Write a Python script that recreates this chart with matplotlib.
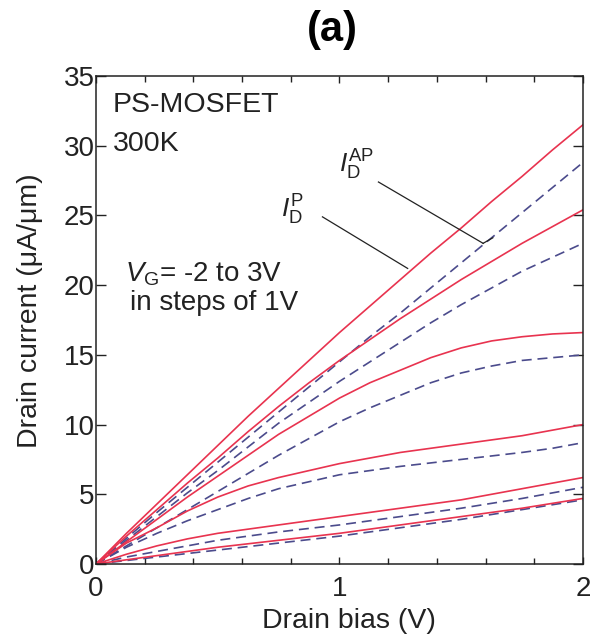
import numpy as np
import matplotlib
matplotlib.use('Agg')
from matplotlib import pyplot as plt
from matplotlib.ticker import MultipleLocator

plt.rcParams['font.family'] = ['Liberation Sans', 'DejaVu Sans']
plt.rcParams['mathtext.fontset'] = 'custom'
plt.rcParams['mathtext.rm'] = 'Liberation Sans'
plt.rcParams['mathtext.it'] = 'Liberation Sans:italic'

# drain bias (V)
vd = [0, 0.125, 0.25, 0.375, 0.5, 0.625, 0.75, 0.875, 1.0,
      1.125, 1.25, 1.375, 1.5, 1.625, 1.75, 1.875, 2.0]

# I_D^P, parallel state, VG = 3 .. -2 V (uA/um)
id_p = [
    [0, 2.2, 4.3, 6.4, 8.5, 10.6, 12.6, 14.6, 16.6, 18.5, 20.4, 22.3, 24.1, 26.0, 27.8, 29.7, 31.5],
    [0, 2.0, 3.9, 5.8, 7.6, 9.5, 11.3, 13.0, 14.6, 16.1, 17.6, 19.0, 20.4, 21.7, 23.0, 24.2, 25.4],
    [0, 1.6, 3.2, 4.8, 6.3, 7.8, 9.3, 10.6, 11.9, 13.0, 13.9, 14.8, 15.5, 16.0, 16.3, 16.5, 16.6],
    [0, 1.5, 2.6, 3.8, 4.8, 5.6, 6.2, 6.7, 7.2, 7.6, 8.0, 8.3, 8.6, 8.9, 9.2, 9.6, 10.0],
    [0, 0.7, 1.3, 1.8, 2.2, 2.5, 2.8, 3.1, 3.4, 3.7, 4.0, 4.3, 4.6, 5.0, 5.4, 5.8, 6.2],
    [0, 0.3, 0.6, 0.9, 1.2, 1.45, 1.7, 1.95, 2.2, 2.5, 2.8, 3.1, 3.4, 3.7, 4.0, 4.35, 4.7],
]

# I_D^AP, antiparallel state
id_ap = [
    [0, 1.85, 3.7, 5.5, 7.3, 9.1, 10.9, 12.7, 14.5, 16.3, 18.0, 19.8, 21.6, 23.4, 25.2, 27.0, 28.8],
    [0, 1.7, 3.4, 5.1, 6.7, 8.4, 10.1, 11.6, 13.1, 14.5, 15.9, 17.3, 18.6, 19.8, 21.0, 22.0, 23.0],
    [0, 1.3, 2.6, 3.9, 5.2, 6.5, 7.8, 9.0, 10.2, 11.2, 12.1, 13.0, 13.7, 14.2, 14.6, 14.8, 15.0],
    [0, 1.2, 2.2, 3.1, 3.9, 4.7, 5.4, 5.9, 6.4, 6.7, 7.0, 7.25, 7.5, 7.75, 8.0, 8.3, 8.7],
    [0, 0.5, 0.9, 1.3, 1.7, 2.0, 2.3, 2.55, 2.8, 3.1, 3.4, 3.7, 4.0, 4.35, 4.7, 5.1, 5.5],
    [0, 0.25, 0.5, 0.75, 1.0, 1.25, 1.5, 1.75, 2.0, 2.3, 2.6, 2.9, 3.2, 3.55, 3.9, 4.25, 4.6],
]

red = '#e8334f'
blue = '#4b4b8c'
ink = '#222222'

fig = plt.figure(figsize=(5.93, 6.39), dpi=100)
ax = fig.add_axes([0.162, 0.1174, 0.821, 0.7636])

for ap in id_ap:
    ax.plot(vd, ap, color=blue, lw=1.2, dashes=(6, 3.5))
for p in id_p:
    ax.plot(vd, p, color=red, lw=1.2)

ax.set_xlim(0, 2)
ax.set_ylim(0, 35)
ax.xaxis.set_major_locator(MultipleLocator(1))
ax.xaxis.set_minor_locator(MultipleLocator(0.2))
ax.yaxis.set_major_locator(MultipleLocator(5))
ax.tick_params(which='both', direction='in', top=True, right=True,
               colors=ink, labelsize=20, width=1.0)
ax.tick_params(which='major', length=5)
ax.tick_params(which='minor', length=4)
ax.tick_params(axis='y', which='major', length=7, pad=1)
ax.tick_params(axis='x', pad=8.5)
for s in ax.spines.values():
    s.set_color(ink)
    s.set_linewidth(1.1)

ax.set_xlabel('Drain bias (V)', fontsize=20.5, color=ink, labelpad=2)
ax.set_ylabel('Drain current (\u03bcA/\u03bcm)', fontsize=20.5, color=ink, labelpad=2)
ax.xaxis.set_label_coords(0.52, -0.09)
ax.yaxis.set_label_coords(-0.11, 0.52)
fig.text(0.56, 0.953, '(a)', fontsize=30, fontweight='bold', ha='center', va='center')

ax.text(0.07, 32.9, 'PS-MOSFET', fontsize=20.5, color=ink, va='center')
ax.text(0.07, 30.1, '300K', fontsize=20.5, color=ink, va='center')
ax.text(0.117, 20.8, r'$V_{\rm G}$= -2 to 3V', fontsize=20, color=ink, va='center')
ax.text(0.14, 18.7, 'in steps of 1V', fontsize=20, color=ink, va='center')

ax.text(1.0, 28.6, r'$I_{\rm D}^{\rm AP}$', fontsize=19, color=ink, va='center')
ax.text(0.76, 25.4, r'$I_{\rm D}^{\rm P}$', fontsize=19, color=ink, va='center')
ax.plot([1.16, 1.59], [27.4, 23.0], color=ink, lw=0.9)
ax.plot([1.59, 1.63], [23.0, 23.4], color=ink, lw=0.9)
ax.plot([0.93, 1.28], [24.9, 21.2], color=ink, lw=0.9)

fig.savefig('out.png', dpi=100)
